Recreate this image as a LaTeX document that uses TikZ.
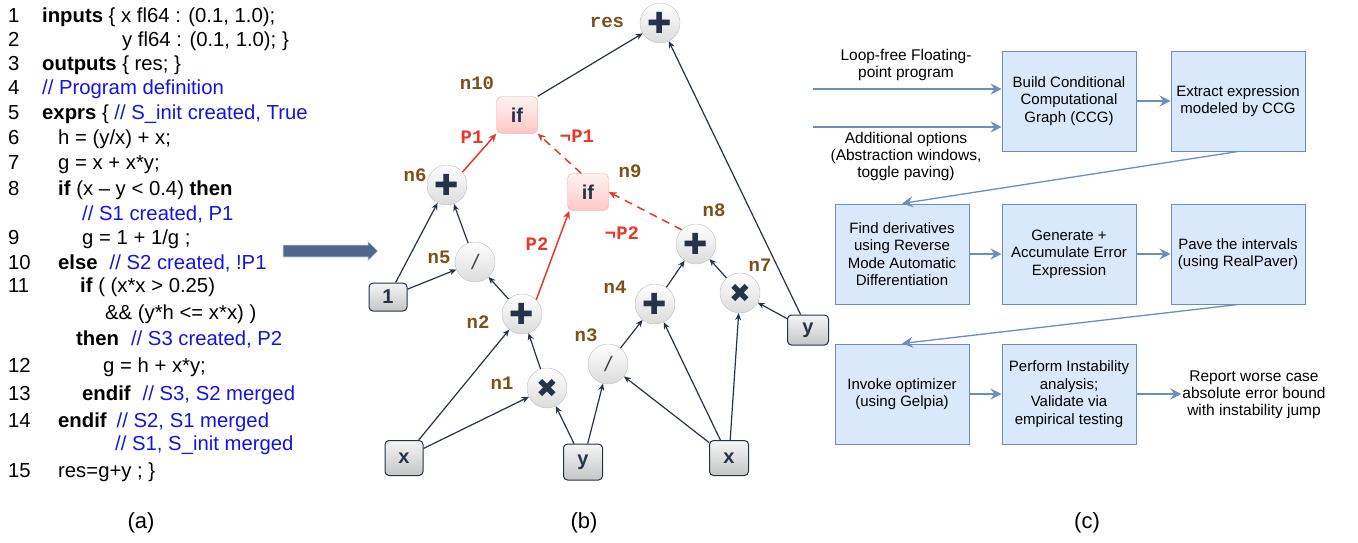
\documentclass[tikz,border=0pt]{standalone}
\usepackage{fontspec}
\setmainfont{Liberation Sans}
\newfontfamily\monof{Liberation Mono}
\newfontfamily\symf{DejaVu Sans}
\usetikzlibrary{arrows.meta,shapes.geometric}
\definecolor{cblue}{RGB}{20,20,225}
\definecolor{navy}{RGB}{38,50,72}
\definecolor{brn}{RGB}{123,80,25}
\definecolor{rd}{RGB}{232,55,43}
\definecolor{fcfill}{HTML}{DAE8FC}
\definecolor{fcline}{HTML}{6C8EBF}
\definecolor{bigarrow}{RGB}{80,102,143}
\tikzset{
  codeline/.style={anchor=base west, inner sep=0pt, font=\fontsize{20.3}{24}\selectfont},
  op/.style={circle, minimum size=40pt, inner sep=0pt, draw=gray!50, top color=white, bottom color=gray!28, text=navy},
  leaf/.style={rectangle, rounded corners=4pt, draw=navy, line width=1pt, top color=gray!8, bottom color=gray!45, text=navy, font=\fontsize{20}{20}\selectfont\bfseries, inner sep=0pt},
  ifbox/.style={rectangle, rounded corners=5pt, draw=rd!45, top color=red!5, bottom color=red!22, minimum width=41pt, minimum height=37pt, font=\fontsize{20}{20}\selectfont\bfseries, text=navy, inner sep=0pt},
  nlab/.style={font=\monof\bfseries\fontsize{19}{19}\selectfont, text=brn, inner sep=0pt},
  plab/.style={font=\monof\bfseries\fontsize{19}{19}\selectfont, text=rd, inner sep=0pt},
  gedge/.style={draw=navy, line width=1.2pt, -{Stealth[length=7pt,width=6pt]}},
  redge/.style={draw=rd, line width=1.5pt, -{Stealth[length=8pt,width=7pt]}},
  rdash/.style={redge, dash pattern=on 8pt off 6pt},
  fbox/.style={rectangle, draw=fcline, fill=fcfill, line width=1pt, minimum width=134pt, minimum height=100pt, align=center, font=\fontsize{15}{17.5}\selectfont, inner sep=2pt},
  farrow/.style={draw=fcline, line width=1.3pt, -{Stealth[length=11pt,width=11pt,inset=4pt]}},
  ftext/.style={align=center, font=\fontsize{15.5}{17}\selectfont, inner sep=1pt},
  sublabel/.style={font=\fontsize{22}{22}\selectfont, inner sep=0pt},
  plusop/.style={op, font=\symf\fontsize{29}{29}\selectfont},
  timesop/.style={op, font=\symf\fontsize{26}{26}\selectfont},
  divop/.style={op, font=\fontsize{21}{21}\selectfont\itshape, text=black!75}
}
\begin{document}
\begin{tikzpicture}[x=1pt,y=-1pt]
\useasboundingbox (0,0) rectangle (1358,542);
% ---------------- (a) code ----------------
\foreach \n/\yy in {1/22,2/46,3/70,4/94,5/119,6/144,7/169,8/195,9/244,10/269,11/292,12/372,13/400,14/427,15/477}{
  \node[codeline] (ln\n) at (8,\yy) {\n};
}
\node[codeline] (c1) at (42,22) {\textbf{inputs} \{ x fl64 : (0.1, 1.0);};
\node[codeline] (c2) at (122,46) {y fl64 : (0.1, 1.0); \}};
\node[codeline] (c3) at (42,70) {\textbf{outputs} \{ res; \}};
\node[codeline, text=cblue] (c4) at (42,94) {// Program definition};
\node[codeline] (c5) at (42,119) {\textbf{exprs} \{ {\color{cblue}// S\_init created, True}};
\node[codeline] (c6) at (58,144) {h = (y/x) + x;};
\node[codeline] (c7) at (58,169) {g = x + x*y;};
\node[codeline] (c8) at (58,195) {\textbf{if} (x – y < 0.4) \textbf{then}};
\node[codeline, text=cblue] (c8b) at (82,220) {// S1 created, P1};
\node[codeline] (c9) at (82,244) {g = 1 + 1/g ;};
\node[codeline] (c10) at (58,269) {\textbf{else}\hspace{12pt}{\color{cblue}// S2 created, !P1}};
\node[codeline] (c11) at (80,292) {\textbf{if} ( (x*x > 0.25)};
\node[codeline] (c11b) at (105,319) {\&\& (y*h <= x*x) )};
\node[codeline] (c11c) at (76,345) {\textbf{then}\hspace{12pt}{\color{cblue}// S3 created, P2}};
\node[codeline] (c12) at (103,372) {g = h + x*y;};
\node[codeline] (c13) at (82,400) {\textbf{endif}\hspace{12pt}{\color{cblue}// S3, S2 merged}};
\node[codeline] (c14) at (58,427) {\textbf{endif}\hspace{10pt}{\color{cblue}// S2, S1 merged}};
\node[codeline, text=cblue] (c14b) at (115,450) {// S1, S\_init merged};
\node[codeline] (c15) at (58,477) {res=g+y ; \}};
\node[sublabel] (la) at (141,523) {(a)};
% big arrow
\fill[bigarrow, draw=gray!25, line width=0.8pt] (283,245) -- (368,245) -- (368,241) -- (378,251) -- (368,261) -- (368,257) -- (283,257) -- cycle;
% ---------------- (b) graph ----------------
\node[plusop] (res) at (660,23) {✚};
\node[ifbox] (n10) at (517,115) {if};
\node[ifbox] (n9) at (588,192) {if};
\node[plusop] (n6) at (447,185) {✚};
\node[divop] (n5) at (475,262) {/};
\node[leaf, minimum width=38pt, minimum height=28pt] (one) at (388,297) {1};
\node[plusop] (n2) at (522,314) {✚};
\node[timesop] (n1) at (547,388) {✖};
\node[leaf, minimum width=38pt, minimum height=35pt] (xl) at (404,458) {x};
\node[leaf, minimum width=39pt, minimum height=36pt] (ym) at (583,462) {y};
\node[divop] (n3) at (608,364) {/};
\node[plusop] (n4) at (655,304) {✚};
\node[leaf, minimum width=39pt, minimum height=35pt] (xr) at (729,458) {x};
\node[timesop] (n7) at (740,293) {✖};
\node[plusop] (n8) at (696,244) {✚};
\node[leaf, minimum width=41pt, minimum height=30pt] (yr) at (808,330) {y};
% labels
\node[nlab] (lres) at (607,22) {res};
\node[nlab] (l10) at (477,83) {n10};
\node[nlab] (l9) at (630,171) {n9};
\node[nlab] (l6) at (415,175) {n6};
\node[nlab] (l5) at (439,257) {n5};
\node[nlab] (l2) at (478,322) {n2};
\node[nlab] (l1) at (502,383) {n1};
\node[nlab] (l3) at (586,335) {n3};
\node[nlab] (l4) at (615,287) {n4};
\node[nlab] (l7) at (760,265) {n7};
\node[nlab] (l8) at (714,210) {n8};
\node[plab] (p1) at (472,137) {P1};
\node[plab] (np1) at (577,136) {¬P1};
\node[plab] (p2) at (537,244) {P2};
\node[plab] (np2) at (622,233) {¬P2};
% edges
\draw[gedge] (n10.north east) -- (res);
\draw[gedge] (yr) -- (res);
\draw[redge] (n6.40) -- (n10.south west);
\draw[rdash] (n9.110) -- (n10.south east);
\draw[redge] (n2.45) -- (n9.225);
\draw[rdash] (n8.135) -- (n9.east);
\draw[gedge] (one) -- (n6);
\draw[gedge] (n5) -- (n6);
\draw[gedge] (one) -- (n5);
\draw[gedge] (n2) -- (n5);
\draw[gedge] (xl) -- (n2);
\draw[gedge] (n1) -- (n2);
\draw[gedge] (xl) -- (n1);
\draw[gedge] (ym) -- (n1);
\draw[gedge] (ym) -- (n3);
\draw[gedge] (xr) -- (n3);
\draw[gedge] (n3) -- (n4);
\draw[gedge] (xr) -- (n4);
\draw[gedge] (n4) -- (n8);
\draw[gedge] (n7) -- (n8);
\draw[gedge] (xr) -- (n7);
\draw[gedge] (yr) -- (n7);
\node[sublabel] (lb) at (584,523) {(b)};
% ---------------- (c) flowchart ----------------
\node[fbox] (b1) at (1069,101) {Build Conditional\\Computational\\Graph (CCG)};
\node[fbox] (b2) at (1238,101) {Extract expression\\modeled by CCG};
\node[fbox] (r2a) at (902,254) {Find derivatives\\using Reverse\\Mode Automatic\\Differentiation};
\node[fbox] (r2b) at (1069,254) {Generate +\\Accumulate Error\\Expression};
\node[fbox] (r2c) at (1238,254) {Pave the intervals\\(using RealPaver)};
\node[fbox] (r3a) at (902,394) {Invoke optimizer\\(using Gelpia)};
\node[fbox] (r3b) at (1069,394) {Perform Instability\\analysis;\\Validate via\\empirical testing};
\node[ftext] (rep) at (1254,395) {Report worse case\\absolute error bound\\with instability jump};
\node[ftext] (tin1) at (906,65) {Loop-free Floating-\\point program};
\node[ftext] (tin2) at (906,156) {Additional options\\(Abstraction windows,\\toggle paving)};
\coordinate (in1) at (813,89);
\coordinate (in2) at (813,127);
\draw[farrow] (in1) -- (b1.west |- in1);
\draw[farrow] (in2) -- (b1.west |- in2);
\draw[farrow] (b1) -- (b2);
\draw[farrow] (b2.south) -- (r2a.north);
\draw[farrow] (r2a) -- (r2b);
\draw[farrow] (r2b) -- (r2c);
\draw[farrow] (r2c.south) -- (r3a.north);
\draw[farrow] (r3a) -- (r3b);
\draw[farrow] (r3b.east) -- (rep.west |- r3b.east);
\node[sublabel] (lc) at (1087,523) {(c)};
\end{tikzpicture}
\end{document}
